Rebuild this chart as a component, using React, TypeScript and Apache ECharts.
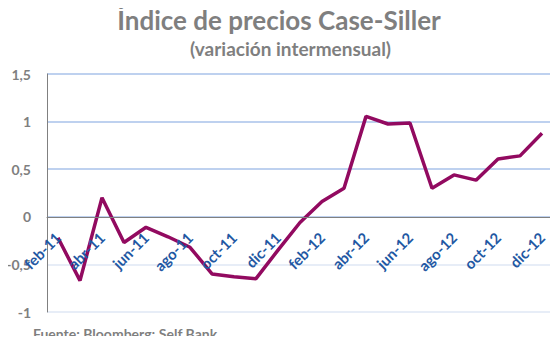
import React, { useEffect, useRef } from "react";
import * as echarts from "echarts";

const categories = [
  "feb-11", "mar-11", "abr-11", "may-11", "jun-11", "jul-11", "ago-11", "sep-11",
  "oct-11", "nov-11", "dic-11", "ene-12", "feb-12", "mar-12", "abr-12", "may-12",
  "jun-12", "jul-12", "ago-12", "sep-12", "oct-12", "nov-12", "dic-12",
];
const values = [
  -0.22, -0.67, 0.2, -0.27, -0.11, -0.21, -0.32, -0.6, -0.63, -0.65, -0.35,
  -0.06, 0.16, 0.3, 1.055, 0.975, 0.985, 0.3, 0.44, 0.385, 0.607, 0.64, 0.877,
];
const yTicks = { min: -1, max: 1.5, interval: 0.5 };
const titleText = "Índice de precios Case-Siller";
const subtitleText = "(variación intermensual)";
const sourceText = "Fuente: Bloomberg; Self Bank";

export default function App() {
  const ref = useRef<HTMLDivElement>(null);
  useEffect(() => {
    if (!ref.current) return;
    const chart = echarts.init(ref.current, undefined, { renderer: "svg" });
    const font = "Lato, 'Open Sans', sans-serif";
    const gridTop = 74;
    const gridBottom = 32;
    const plotH = 344 - gridTop - gridBottom;
    const zeroOffset = -plotH * (0 - yTicks.min) / (yTicks.max - yTicks.min);
    chart.setOption({
      animation: false,
      backgroundColor: "#ffffff",
      grid: {
        left: 47,
        right: 5,
        top: gridTop,
        bottom: gridBottom,
        containLabel: false,
        outerBoundsMode: "none",
      },
      graphic: [
        {
          type: "text",
          left: "center",
          top: 7,
          style: { text: titleText, fill: "#7f7f7f", font: `bold 26px ${font}` },
        },
        {
          type: "text",
          left: 190,
          top: 39,
          style: { text: subtitleText, fill: "#7f7f7f", font: `bold 19px ${font}` },
        },
        {
          type: "text",
          left: 33,
          top: 326,
          style: { text: sourceText, fill: "#7f7f7f", font: `bold 14px ${font}` },
        },
      ],
      xAxis: {
        type: "category",
        data: categories,
        boundaryGap: true,
        offset: zeroOffset,
        z: 5,
        axisLine: { onZero: false, lineStyle: { color: "#808080", width: 1 } },
        axisTick: { show: false },
        axisLabel: {
          interval: 1,
          rotate: 45,
          margin: 18,
          color: "#1f58a3",
          fontWeight: "bold",
          fontSize: 15,
          fontFamily: font,
        },
        splitLine: { show: false },
      },
      yAxis: {
        type: "value",
        min: yTicks.min,
        max: yTicks.max,
        interval: yTicks.interval,
        axisLine: { show: true, lineStyle: { color: "#808080", width: 1 } },
        axisTick: { show: false },
        axisLabel: {
          margin: 16,
          color: "#7f7f7f",
          fontWeight: "bold",
          fontSize: 14,
          fontFamily: font,
          formatter: (v: number) => String(v).replace(".", ","),
        },
        splitLine: {
          show: true,
          lineStyle: {
            color: ["#dfe7f5", "#dfe7f5", "#a9c2ea", "#a9c2ea", "#a9c2ea", "#a9c2ea"],
            width: 1.5,
          },
        },
      },
      series: [
        {
          type: "line",
          data: values,
          symbol: "none",
          lineStyle: { color: "#920a60", width: 3.5 },
          z: 1,
        },
      ],
    });
    return () => chart.dispose();
  }, []);
  return <div ref={ref} style={{ width: 558, height: 344, margin: -8 }} />;
}
